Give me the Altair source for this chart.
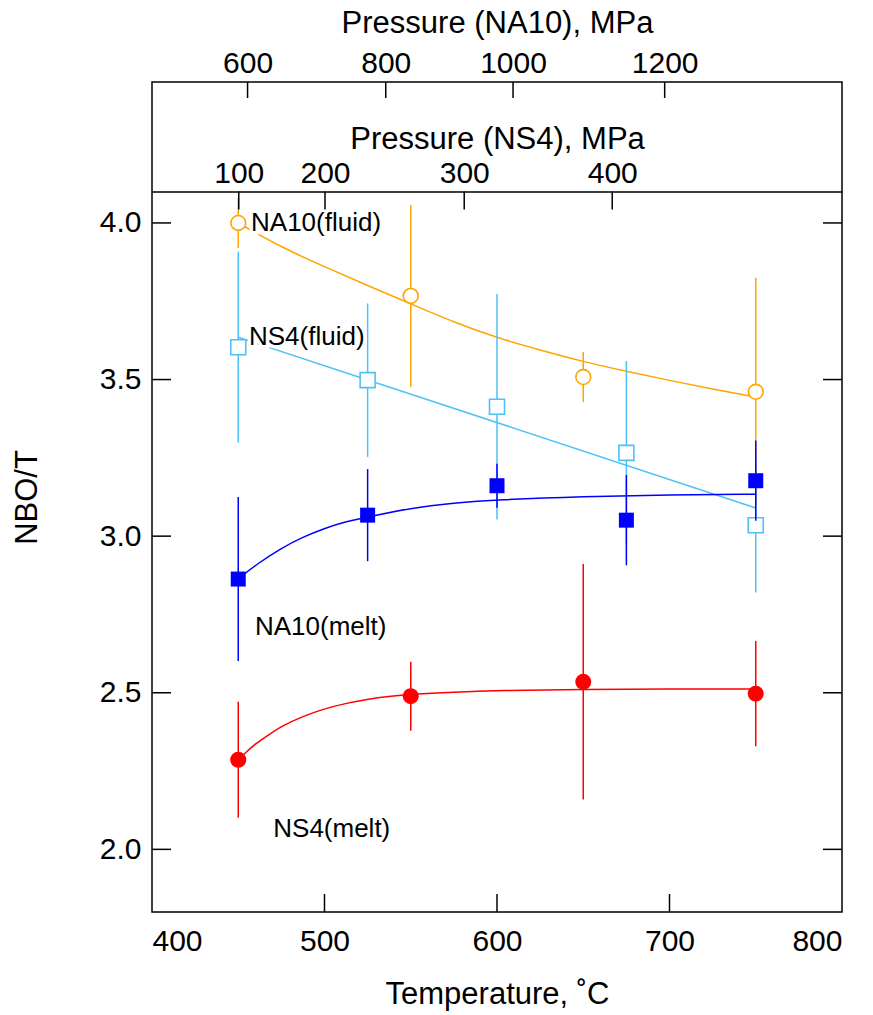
import json
import altair as alt
import pandas as pd

# ---------------- data ----------------
# NA10 (fluid): open orange circles
na10_fluid_t = [450, 550, 650, 750]
na10_fluid_nbo = [4.00, 3.767, 3.508, 3.461]
na10_fluid_err = [0.08, 0.29, 0.08, 0.364]
na10_fluid_fit_t = [450, 475, 500, 525, 550, 575, 600, 625, 650, 675, 700, 725, 750]
na10_fluid_fit_v = [4.00, 3.922, 3.86, 3.80, 3.742, 3.683, 3.633, 3.594, 3.557, 3.526, 3.497, 3.470, 3.444]

# NS4 (fluid): open light-blue squares
ns4_fluid_t = [450, 525, 600, 675, 750]
ns4_fluid_nbo = [3.603, 3.498, 3.413, 3.266, 3.035]
ns4_fluid_err = [0.305, 0.245, 0.36, 0.293, 0.215]
ns4_fluid_fit_t = [450, 750]
ns4_fluid_fit_v = [3.635, 3.090]

# NA10 (melt): filled blue squares
na10_melt_t = [450, 525, 600, 675, 750]
na10_melt_nbo = [2.863, 3.067, 3.161, 3.051, 3.177]
na10_melt_err = [0.262, 0.147, 0.07, 0.144, 0.128]
na10_melt_fit_t = [450, 460, 475, 487, 500, 512, 525, 550, 575, 600, 650, 700, 750]
na10_melt_fit_v = [2.863, 2.908, 2.962, 2.996, 3.025, 3.046, 3.061, 3.090, 3.106, 3.116, 3.127, 3.132, 3.134]

# NS4 (melt): filled red circles
ns4_melt_t = [450, 550, 650, 750]
ns4_melt_nbo = [2.286, 2.489, 2.535, 2.497]
ns4_melt_err = [0.185, 0.11, 0.376, 0.168]
ns4_melt_fit_t = [450, 455, 460, 467, 475, 487, 500, 512, 525, 537, 550, 575, 600, 650, 700, 750]
ns4_melt_fit_v = [2.286, 2.313, 2.337, 2.363, 2.393, 2.424, 2.449, 2.466, 2.479, 2.488, 2.495,
                  2.502, 2.507, 2.511, 2.512, 2.512]

# axes
temp_ticks = [400, 500, 600, 700, 800]
temp_inner_ticks = [500, 600, 700]
nbo_ticks = [2.0, 2.5, 3.0, 3.5, 4.0]
na10_p_tick_t = [455.4, 535.5, 609.3, 697.2]
na10_p_labels = ["600", "800", "1000", "1200"]
ns4_p_tick_t = [450.3, 500.3, 581.0, 666.8]
ns4_p_labels = ["100", "200", "300", "400"]

x_domain = [400, 800]
y_domain = [1.8, 4.45]
separator_nbo = 4.1

annot_labels = ["NA10(fluid)", "NS4(fluid)", "NA10(melt)", "NS4(melt)"]
annot_t = [457.4, 456.2, 459.7, 470.3]
annot_v = [4.0, 3.635, 2.709, 2.066]

# ---------------- styling ----------------
ORANGE = "#FFA500"
LIGHTBLUE = "#4FC1F5"
BLUE = "#0000FF"
RED = "#FF0000"
FONT = "Liberation Sans"
W, H = 690, 830
SEP = H * (y_domain[1] - separator_nbo) / (y_domain[1] - y_domain[0])
TICK = 18

xs = alt.Scale(domain=x_domain, nice=False, zero=False)
ys = alt.Scale(domain=y_domain, nice=False, zero=False)

y_axis = alt.Axis(values=nbo_ticks, format=".1f", title="NBO/T", ticks=False, tickSize=0,
                  domain=False, grid=False, labelFontSize=30, labelPadding=11,
                  titleFontSize=31, titleFontWeight="normal", titlePadding=56,
                  labelFont=FONT, titleFont=FONT, labelColor="black", titleColor="black")


def pts_df(t, v, e):
    return pd.DataFrame({"t": t, "v": v, "lo": [a - b for a, b in zip(v, e)],
                         "hi": [a + b for a, b in zip(v, e)]})


def fit_df(t, v):
    return pd.DataFrame({"t": t, "v": v})


def series(t, v, e, ft, fv, color, point_mark):
    d = pts_df(t, v, e)
    f = fit_df(ft, fv)
    X = alt.X("t:Q", scale=xs, axis=None)
    err = alt.Chart(d).mark_rule(color=color, strokeWidth=1.5).encode(
        x=X, y=alt.Y("lo:Q", scale=ys, axis=y_axis), y2="hi:Q")
    line = alt.Chart(f).mark_line(color=color, strokeWidth=1.5, interpolate="basis").encode(
        x=X, y=alt.Y("v:Q", scale=ys, axis=y_axis))
    pts = alt.Chart(d).mark_point(**point_mark).encode(
        x=X, y=alt.Y("v:Q", scale=ys, axis=y_axis))
    return [err, line, pts]


layers = []
layers += series(na10_fluid_t, na10_fluid_nbo, na10_fluid_err, na10_fluid_fit_t, na10_fluid_fit_v,
                 ORANGE, dict(shape="circle", size=220, filled=True, fill="white", stroke=ORANGE,
                              strokeWidth=1.6, opacity=1))
layers += series(ns4_fluid_t, ns4_fluid_nbo, ns4_fluid_err, ns4_fluid_fit_t, ns4_fluid_fit_v,
                 LIGHTBLUE, dict(shape="square", size=225, filled=True, fill="white", stroke=LIGHTBLUE,
                                 strokeWidth=1.6, opacity=1))
layers += series(na10_melt_t, na10_melt_nbo, na10_melt_err, na10_melt_fit_t, na10_melt_fit_v,
                 BLUE, dict(shape="square", size=225, filled=True, fill=BLUE, strokeWidth=0, opacity=1))
layers += series(ns4_melt_t, ns4_melt_nbo, ns4_melt_err, ns4_melt_fit_t, ns4_melt_fit_v,
                 RED, dict(shape="circle", size=256, filled=True, fill=RED, strokeWidth=0, opacity=1))

# annotations (white halo masks the lines behind the text, as in the original)
annot_df = pd.DataFrame({"t": annot_t, "v": annot_v, "label": annot_labels})
annot_enc = dict(x=alt.X("t:Q", scale=xs, axis=None), y=alt.Y("v:Q", scale=ys, axis=y_axis),
                 text="label:N")
halo = alt.Chart(annot_df).mark_text(
    align="left", baseline="middle", fontSize=26, font=FONT, fill="white", stroke="white",
    strokeWidth=7).encode(**annot_enc)
annot = alt.Chart(annot_df).mark_text(
    align="left", baseline="middle", fontSize=26, font=FONT, color="black").encode(**annot_enc)
layers += [halo, annot]

# bottom axis + inward ticks
bottom_axis = alt.Axis(values=temp_ticks, title="Temperature, ˚C", orient="bottom", ticks=False,
                       tickSize=0, domain=False, grid=False, labelFontSize=30, labelPadding=14,
                       titleFontSize=31, titleFontWeight="normal", titlePadding=23,
                       labelFont=FONT, titleFont=FONT, labelColor="black", titleColor="black")
bt = alt.Chart(pd.DataFrame({"t": temp_inner_ticks})).mark_rule(color="black", strokeWidth=1.5).encode(
    x=alt.X("t:Q", scale=xs, axis=bottom_axis), y=alt.value(H), y2=alt.value(H - TICK))
layers.append(bt)

# NA10 pressure axis (top of chart)
na10_expr = f"{json.dumps(na10_p_labels)}[indexof({json.dumps(na10_p_tick_t)}, datum.value)]"
na10_axis = alt.Axis(values=na10_p_tick_t, labelExpr=na10_expr, title="Pressure (NA10), MPa",
                     orient="top", ticks=False, tickSize=0, domain=False, grid=False,
                     labelFontSize=30, labelPadding=4, titleFontSize=31, titleFontWeight="normal",
                     titlePadding=9, labelFont=FONT, titleFont=FONT, labelColor="black",
                     titleColor="black")
na10_ticks = alt.Chart(pd.DataFrame({"t": na10_p_tick_t})).mark_rule(color="black", strokeWidth=1.5).encode(
    x=alt.X("t:Q", scale=xs, axis=na10_axis), y=alt.value(0), y2=alt.value(TICK - 2))
layers.append(na10_ticks)

# NS4 pressure axis (separator line inside the chart)
ns4_expr = f"{json.dumps(ns4_p_labels)}[indexof({json.dumps(ns4_p_tick_t)}, datum.value)]"
ns4_axis = alt.Axis(values=ns4_p_tick_t, labelExpr=ns4_expr, title="Pressure (NS4), MPa",
                    orient="top", offset=-SEP, ticks=False, tickSize=0, domain=True,
                    domainColor="black", domainWidth=1.5, grid=False,
                    labelFontSize=30, labelPadding=3, titleFontSize=31, titleFontWeight="normal",
                    titlePadding=3, labelFont=FONT, titleFont=FONT, labelColor="black",
                    titleColor="black")
ns4_ticks = alt.Chart(pd.DataFrame({"t": ns4_p_tick_t})).mark_rule(color="black", strokeWidth=1.5).encode(
    x=alt.X("t:Q", scale=xs, axis=ns4_axis), y=alt.value(SEP), y2=alt.value(SEP + TICK))
layers.append(ns4_ticks)

# inward y ticks, left and right
ytick_df = pd.DataFrame({"v": nbo_ticks})
yl = alt.Chart(ytick_df).mark_rule(color="black", strokeWidth=1.5).encode(
    y=alt.Y("v:Q", scale=ys, axis=y_axis), x=alt.value(0), x2=alt.value(TICK + 1))
yr = alt.Chart(ytick_df).mark_rule(color="black", strokeWidth=1.5).encode(
    y=alt.Y("v:Q", scale=ys, axis=y_axis), x=alt.value(W - TICK - 1), x2=alt.value(W))
layers += [yl, yr]

chart = alt.layer(*layers).resolve_axis(x="independent").properties(
    width=W, height=H,
    autosize=alt.AutoSizeParams(type="none"),
    padding={"left": 152, "top": 82, "right": 31, "bottom": 103},
    background="white",
).configure_view(stroke="black", strokeWidth=1.5)

chart.save("out.html", embed_options={"renderer": "svg", "actions": False})
